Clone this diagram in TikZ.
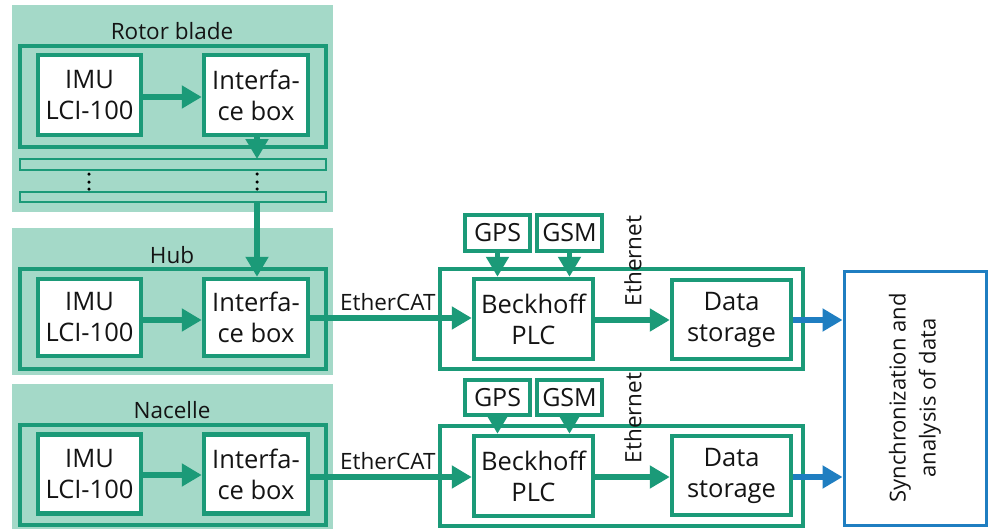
\documentclass[tikz,border=0pt]{standalone}
\usepackage{fontspec}
\setmainfont{Open Sans}
\usetikzlibrary{arrows.meta}
\definecolor{grn}{RGB}{27,154,120}
\definecolor{panel}{RGB}{164,217,200}
\definecolor{blu}{RGB}{31,126,193}
\definecolor{txt}{RGB}{20,20,20}
\tikzset{
  panelbg/.style={fill=panel,draw=none},
  frame/.style={draw=grn,line width=3.2pt},
  thinframe/.style={draw=grn,line width=2.6pt},
  blk/.style={draw=grn,line width=4.5pt,fill=white,text=txt,align=center,inner sep=0pt,font=\fontsize{25.5}{31}\selectfont},
  small/.style={draw=grn,line width=4.5pt,fill=white,text=txt,align=center,inner sep=0pt,font=\fontsize{25}{30}\selectfont},
  lbl/.style={text=txt,font=\fontsize{22.5}{27}\selectfont},
  garrow/.style={draw=grn,line width=5.5pt,-{Triangle[length=20pt,width=22pt]}},
  barrow/.style={draw=blu,line width=5.5pt,-{Triangle[length=20pt,width=22pt]}},
  dot/.style={fill=black,draw=none,circle,inner sep=0pt,minimum size=3.5pt},
}
\begin{document}
\begin{tikzpicture}[x=1pt,y=-1pt]
\useasboundingbox (0,0) rectangle (988,530);
% panels
\fill[panelbg] (12,5) rectangle (333,212);
\fill[panelbg] (12,228) rectangle (333,375);
\fill[panelbg] (12,384) rectangle (333,529);
% frames
\draw[frame] (20,46) rectangle (326,147);
\draw[thinframe] (20,159) rectangle (326,170);
\draw[thinframe] (20,192) rectangle (326,202);
\draw[frame] (20,269) rectangle (326,369);
\draw[frame] (20,425) rectangle (326,525);
\draw[frame] (440,269) rectangle (803,369);
\draw[frame] (440,426) rectangle (803,526);
% labels
\node[lbl] (lrotor) at (172,31) {Rotor blade};
\node[lbl] (lhub) at (172,255) {Hub};
\node[lbl] (lnac) at (172,410) {Nacelle};
% rotor blade
\node[blk,minimum width=103pt,minimum height=80pt] (imu1) at (89.5,95) {IMU\\LCI-100};
\node[blk,minimum width=104pt,minimum height=80pt] (if1) at (256,95) {Interfa-\\ce box};
% hub
\node[blk,minimum width=103pt,minimum height=77pt] (imu2) at (89.5,317.5) {IMU\\LCI-100};
\node[blk,minimum width=104pt,minimum height=77pt] (if2) at (256,317.5) {Interfa-\\ce box};
% nacelle
\node[blk,minimum width=103pt,minimum height=79pt] (imu3) at (89.5,474) {IMU\\LCI-100};
\node[blk,minimum width=104pt,minimum height=79pt] (if3) at (256,474) {Interfa-\\ce box};
% dots
\foreach \yy in {174,182,189}{
  \node[dot] at (89,\yy) {};
  \node[dot] at (257,\yy) {};
}
% PLC rows
\node[blk,minimum width=119pt,minimum height=80pt] (plc1) at (533.5,319) {Beckhoff\\PLC};
\node[blk,minimum width=119pt,minimum height=80pt] (plc2) at (533.5,476) {Beckhoff\\PLC};
\node[small,minimum width=65pt,minimum height=36pt] (gps1) at (497.5,233) {GPS};
\node[small,minimum width=65pt,minimum height=36pt] (gsm1) at (569.5,233) {GSM};
\node[small,minimum width=65pt,minimum height=35pt] (gps2) at (497.5,397.5) {GPS};
\node[small,minimum width=65pt,minimum height=35pt] (gsm2) at (569.5,397.5) {GSM};
\node[blk,minimum width=119pt,minimum height=79pt] (ds1) at (731.5,319.5) {Data\\storage};
\node[blk,minimum width=119pt,minimum height=79pt] (ds2) at (731.5,475.5) {Data\\storage};
% sync box
\node[draw=blu,line width=3pt,fill=white,minimum width=142pt,minimum height=254pt,inner sep=0pt] (sync) at (915,398) {};
\node[rotate=90,align=center,text=txt,font=\fontsize{22}{30}\selectfont] (synct) at (sync.center) {Synchronization and\\analysis of data};
% arrows within panels
\draw[garrow] (imu1.east |- 0,97) -- (if1.west |- 0,97);
\draw[garrow] (imu2.east |- 0,320) -- (if2.west |- 0,320);
\draw[garrow] (imu3.east |- 0,475) -- (if3.west |- 0,475);
\coordinate (bar1top) at (257,159);
\coordinate (bar2bot) at (257,202);
\draw[garrow] (if1.south -| bar1top) -- (bar1top);
\draw[garrow] (bar2bot) -- (if2.north -| bar2bot);
% EtherCAT
\draw[garrow] (if2.east |- 0,318) -- node[lbl,above,pos=0.48,yshift=1pt] (ec1) {EtherCAT} (plc1.west |- 0,318);
\draw[garrow] (if3.east |- 0,477) -- node[lbl,above,pos=0.48,yshift=1pt] (ec2) {EtherCAT} (plc2.west |- 0,477);
% GPS/GSM
\draw[garrow] (gps1) -- (plc1.north -| gps1);
\draw[garrow] (gsm1) -- (plc1.north -| gsm1);
\draw[garrow] (gps2) -- (plc2.north -| gps2);
\draw[garrow] (gsm2) -- (plc2.north -| gsm2);
% Ethernet
\draw[garrow] (plc1.east |- 0,320) -- (ds1.west |- 0,320);
\draw[garrow] (plc2.east |- 0,477) -- (ds2.west |- 0,477);
\node[lbl,rotate=90] (eth1) at (633,261) {Ethernet};
\node[lbl,rotate=90] (eth2) at (633,418) {Ethernet};
% to sync
\draw[barrow] (ds1.east |- 0,320) -- (sync.west |- 0,320);
\draw[barrow] (ds2.east |- 0,477) -- (sync.west |- 0,477);
\end{tikzpicture}
\end{document}
